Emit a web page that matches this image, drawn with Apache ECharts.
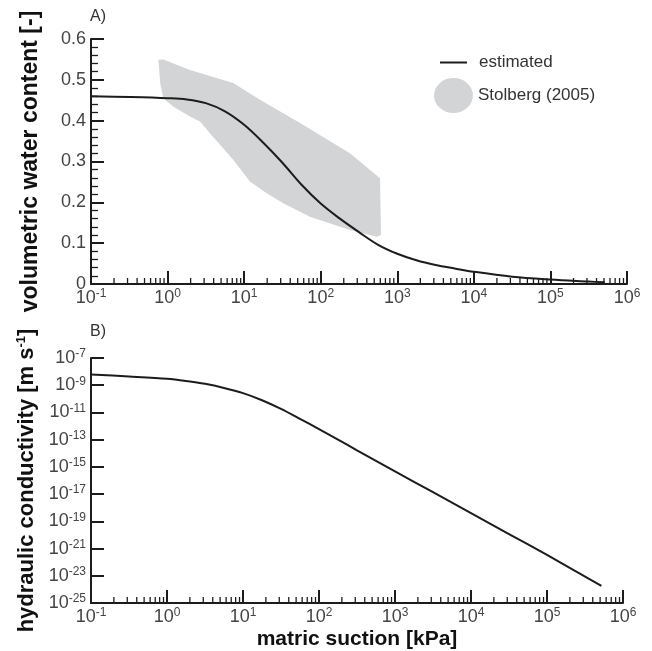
<!DOCTYPE html>
<html>
<head>
<meta charset="utf-8">
<script src="https://cdn.jsdelivr.net/npm/echarts@6/dist/echarts.min.js"></script>
<style>
  html, body { margin: 0; padding: 0; background: #fff; }
  #chart { width: 652px; height: 651px; }
</style>
</head>
<body>
<div id="chart"></div>
<script>
// Water retention curve: matric suction [kPa] and volumetric water content [-]
const suctionTheta = [0.1, 0.316, 1, 1.78, 3.16, 5.62, 10, 17.8, 31.6, 56.2, 100, 178, 316, 562, 1000, 1778, 3162, 5623, 10000, 31623, 100000, 316228, 513000];
const theta = [0.460, 0.458, 0.455, 0.452, 0.443, 0.423, 0.390, 0.346, 0.297, 0.243, 0.197, 0.160, 0.127, 0.096, 0.074, 0.058, 0.0465, 0.038, 0.030, 0.018, 0.011, 0.006, 0.004];

// Range reported by Stolberg (2005), outline of the shaded band
const stolbergSuction = [0.76, 0.88, 1.96, 7.2, 16.1, 53.7, 241, 595, 613, 538, 241, 72.4, 32.4, 19.7, 11.9, 7.2, 3.58, 2.65, 1.96, 1.19, 0.88, 0.80];
const stolbergTheta = [0.549, 0.550, 0.524, 0.492, 0.451, 0.394, 0.320, 0.259, 0.120, 0.116, 0.132, 0.165, 0.198, 0.222, 0.251, 0.304, 0.369, 0.398, 0.410, 0.434, 0.455, 0.492];

// Hydraulic conductivity curve [m s-1]
const suctionK = [0.1, 0.316, 1, 1.78, 3.16, 5.62, 10, 17.8, 31.6, 56.2, 100, 178, 316, 1000, 3162, 10000, 31623, 100000, 520000];
const conductivity = [6.17e-9, 4.37e-9, 2.95e-9, 2.04e-9, 1.26e-9, 6.3e-10, 2.63e-10, 7.9e-11, 1.82e-11, 3.39e-12, 6.0e-13, 1.02e-13, 1.66e-14, 4.7e-16, 1.38e-17, 4.0e-19, 1.17e-20, 3.4e-22, 1.78e-24];

// Axis ranges and tick values
const suctionRange = [0.1, 1e6];
const thetaRange = [0, 0.6];
const conductivityRange = [1e-25, 1e-7];
const conductivityTicks = [1e-25, 1e-23, 1e-21, 1e-19, 1e-17, 1e-15, 1e-13, 1e-11, 1e-9, 1e-7];

// Logarithmic minor ticks (2..9 within each decade) along the suction axis
const minorSuctionTicks = [];
for (let e = -1; e < 6; e++) {
  for (let m = 2; m <= 9; m++) minorSuctionTicks.push(+(m * Math.pow(10, e)).toPrecision(3));
}

const FONT = "'Liberation Sans', Arial, Helvetica, sans-serif";
const INK = '#1c1c1c';
const LABEL = '#444';
const BAND = '#d3d4d6';

const powRich = {
  b: { fontSize: 18, color: LABEL, fontFamily: FONT, lineHeight: 20 },
  s: { fontSize: 12, color: LABEL, fontFamily: FONT, verticalAlign: 'top', lineHeight: 12 }
};
function powLabel(v) {
  const e = Math.round(Math.log10(v));
  return '{b|10}{s|' + e + '}';
}

const axisLine = { show: true, onZero: false, lineStyle: { color: INK, width: 2 } };
const majorTick = { show: true, inside: true, length: 13, lineStyle: { color: INK, width: 2 } };

function minorTickItem(yBase) {
  return function (params, api) {
    const p = api.coord([api.value(0), yBase]);
    return {
      type: 'line',
      shape: { x1: p[0], y1: p[1], x2: p[0], y2: p[1] - 6 },
      style: { stroke: INK, lineWidth: 1.3 }
    };
  };
}

const chart = echarts.init(document.getElementById('chart'), null, { renderer: 'canvas' });

chart.setOption({
  animation: false,
  backgroundColor: '#fff',
  textStyle: { fontFamily: FONT },
  title: [
    { text: 'A)', left: 85, top: 4, textStyle: { fontSize: 16, fontWeight: 'normal', color: '#333', fontFamily: FONT } },
    { text: 'B)', left: 85, top: 319, textStyle: { fontSize: 16, fontWeight: 'normal', color: '#333', fontFamily: FONT } }
  ],
  legend: [
    {
      data: [{ name: 'estimated', icon: 'rect' }],
      left: 435, top: 49,
      itemWidth: 27, itemHeight: 2,
      selectedMode: false,
      textStyle: { fontSize: 17, color: '#333', fontFamily: FONT, padding: [0, 0, 0, 7] }
    },
    {
      data: [{ name: 'Stolberg (2005)', icon: 'path://M0,9 A10,9 0 1,0 20,9 A10,9 0 1,0 0,9 Z' }],
      left: 429, top: 73,
      itemWidth: 39, itemHeight: 35,
      selectedMode: false,
      textStyle: { fontSize: 17, color: '#333', fontFamily: FONT }
    }
  ],
  grid: [
    { left: 91, top: 39, width: 536, height: 245, outerBoundsMode: 'none' },
    { left: 91, top: 358, width: 532, height: 245, outerBoundsMode: 'none' }
  ],
  xAxis: [
    {
      type: 'log', gridIndex: 0, logBase: 10,
      min: suctionRange[0], max: suctionRange[1], interval: 1,
      axisLine: axisLine, axisTick: majorTick,
      splitLine: { show: false },
      axisLabel: { margin: 4, formatter: powLabel, rich: powRich }
    },
    {
      type: 'log', gridIndex: 1, logBase: 10,
      min: suctionRange[0], max: suctionRange[1], interval: 1,
      axisLine: axisLine, axisTick: majorTick,
      splitLine: { show: false },
      axisLabel: { margin: 4, formatter: powLabel, rich: powRich },
      name: 'matric suction [kPa]',
      nameLocation: 'middle', nameGap: 26,
      nameTextStyle: { fontSize: 21, fontWeight: 'bold', color: '#111', fontFamily: FONT }
    }
  ],
  yAxis: [
    {
      type: 'value', gridIndex: 0,
      min: thetaRange[0], max: thetaRange[1], interval: 0.1,
      axisLine: axisLine, axisTick: majorTick,
      minorTick: { show: true, splitNumber: 5, length: 7, lineStyle: { color: INK, width: 1.3 } },
      splitLine: { show: false },
      axisLabel: {
        margin: 5, fontSize: 18, color: LABEL, fontFamily: FONT,
        formatter: function (v) { return v === 0 ? '0' : v.toFixed(1); }
      },
      name: 'volumetric water content [-]',
      nameLocation: 'middle', nameGap: 49,
      nameTextStyle: { fontSize: 23, fontWeight: 'bold', color: '#111', fontFamily: FONT }
    },
    {
      type: 'log', gridIndex: 1, logBase: 10,
      min: conductivityRange[0], max: conductivityRange[1],
      axisLine: axisLine,
      axisTick: Object.assign({}, majorTick, { customValues: conductivityTicks }),
      splitLine: { show: false },
      axisLabel: { margin: 5, formatter: powLabel, rich: powRich, customValues: conductivityTicks },
      name: '{n|hydraulic conductivity [m s}{s|-1}{n|]}',
      nameLocation: 'middle', nameGap: 49,
      nameTextStyle: {
        rich: {
          n: { fontSize: 22, fontWeight: 'bold', color: '#111', fontFamily: FONT, lineHeight: 24 },
          s: { fontSize: 13, fontWeight: 'bold', color: '#111', fontFamily: FONT, verticalAlign: 'top', lineHeight: 13 }
        }
      }
    }
  ],
  series: [
    {
      name: 'Stolberg (2005)',
      type: 'custom',
      xAxisIndex: 0, yAxisIndex: 0,
      color: BAND,
      silent: true,
      data: stolbergSuction.map(function (s, i) { return [s, stolbergTheta[i]]; }),
      encode: { x: 0, y: 1 },
      renderItem: function (params, api) {
        if (params.dataIndex !== 0) return null;
        const pts = stolbergSuction.map(function (s, i) { return api.coord([s, stolbergTheta[i]]); });
        return { type: 'polygon', shape: { points: pts }, style: { fill: BAND } };
      },
      z: 1
    },
    {
      name: 'estimated',
      type: 'line',
      xAxisIndex: 0, yAxisIndex: 0,
      color: INK,
      showSymbol: false,
      smooth: 0.35,
      lineStyle: { color: INK, width: 2 },
      data: suctionTheta.map(function (s, i) { return [s, theta[i]]; }),
      z: 3
    },
    {
      name: 'hydraulic conductivity',
      type: 'line',
      xAxisIndex: 1, yAxisIndex: 1,
      color: INK,
      showSymbol: false,
      smooth: 0.3,
      lineStyle: { color: INK, width: 2 },
      data: suctionK.map(function (s, i) { return [s, conductivity[i]]; }),
      z: 3
    },
    {
      name: 'suction minor ticks A',
      type: 'custom',
      xAxisIndex: 0, yAxisIndex: 0,
      silent: true,
      data: minorSuctionTicks.map(function (s) { return [s, thetaRange[0]]; }),
      encode: { x: 0, y: 1 },
      renderItem: minorTickItem(thetaRange[0]),
      z: 4
    },
    {
      name: 'suction minor ticks B',
      type: 'custom',
      xAxisIndex: 1, yAxisIndex: 1,
      silent: true,
      data: minorSuctionTicks.map(function (s) { return [s, conductivityRange[0]]; }),
      encode: { x: 0, y: 1 },
      renderItem: minorTickItem(conductivityRange[0]),
      z: 4
    }
  ]
});
</script>
</body>
</html>
